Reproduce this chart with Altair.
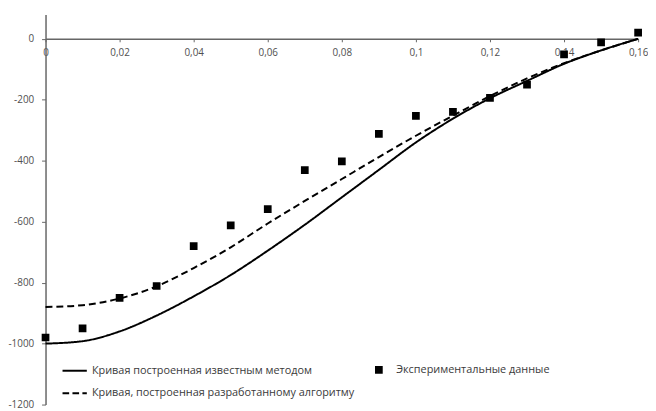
import altair as alt
import pandas as pd

# ---- data ----
x_curve = [0.0, 0.01, 0.02, 0.03, 0.04, 0.05, 0.06, 0.07, 0.08,
           0.09, 0.10, 0.11, 0.12, 0.13, 0.14, 0.15, 0.16]
known_method = [-1000, -992, -960, -908, -845, -775, -695, -610, -520,
                -430, -340, -262, -195, -138, -82, -38, 0]
new_algorithm = [-880, -874, -852, -812, -752, -684, -606, -532, -460,
                 -388, -318, -252, -188, -130, -80, -38, 0]
x_exp = [0.0, 0.01, 0.02, 0.03, 0.04, 0.05, 0.06, 0.07, 0.08,
         0.09, 0.10, 0.11, 0.12, 0.13, 0.14, 0.15, 0.16]
experimental = [-980, -950, -850, -811, -680, -612, -559, -431, -402,
                -312, -253, -240, -194, -150, -51, -12, 20]

x_ticks = [0, 0.02, 0.04, 0.06, 0.08, 0.1, 0.12, 0.14, 0.16]
y_ticks = [-1200, -1000, -800, -600, -400, -200, 0]

S1 = "Кривая построенная известным методом"
S2 = "Экспериментальные данные"
S3 = "Кривая, построенная разработанному алгоритму"
series_order = [S1, S2, S3]
curve_order = [S1, S3]

# ---- layout / style ----
W, H = 600, 395
Y_MIN, Y_MAX = -1200, 80
axis_offset = -H * (0 - Y_MIN) / (Y_MAX - Y_MIN)

# custom symbol paths (unit box -1..1 spans sqrt(size) pixels)
LINE_PATH = "M-1.1,0H1.1"
DASH_PATH = "M-1.1,0H-0.5M-0.2,0H0.4M0.7,0H1.1"
SQUARE_PATH = "M-0.26,-0.26H0.26V0.26H-0.26Z"
FONT = "Open Sans"
AXIS_GRAY = "#666666"

curves = pd.DataFrame({
    "x": x_curve + x_curve,
    "y": known_method + new_algorithm,
    "series": [S1] * len(x_curve) + [S3] * len(x_curve),
})
exp = pd.DataFrame({"x": x_exp, "y": experimental, "series": [S2] * len(x_exp)})

legend = alt.Legend(
    title=None, orient="none", legendX=17, legendY=347, columns=2,
    direction="horizontal",
    columnPadding=12, rowPadding=4, symbolSize=500, labelOffset=5,
    labelFont=FONT, labelFontSize=11, labelColor="#3a3a3a", labelLimit=0,
    symbolStrokeWidth=2,
)
dash_scale = alt.Scale(domain=curve_order, range=[[1, 0], [7, 4]])
shape_scale = alt.Scale(domain=series_order, range=[LINE_PATH, SQUARE_PATH, DASH_PATH])
stroke_scale = alt.Scale(domain=series_order, range=["black", "black", "black"])

x_enc = alt.X(
    "x:Q",
    scale=alt.Scale(domain=[0, 0.16], nice=False, zero=False),
    axis=alt.Axis(
        values=x_ticks, orient="bottom", offset=axis_offset, title=None,
        grid=False, labelExpr="replace(toString(datum.value), '.', ',')",
        domainColor=AXIS_GRAY, domainWidth=1.5, tickColor=AXIS_GRAY,
        tickSize=3, labelPadding=6, labelFont=FONT, labelFontSize=10,
        labelColor="#505050", labelFlush=False,
    ),
)
y_enc = alt.Y(
    "y:Q",
    scale=alt.Scale(domain=[Y_MIN, Y_MAX], nice=False, zero=False),
    axis=alt.Axis(
        values=y_ticks, title=None, grid=False,
        labelExpr="toString(datum.value)",
        domainColor=AXIS_GRAY, domainWidth=1.5, tickColor=AXIS_GRAY,
        tickSize=4, labelPadding=8, labelFont=FONT, labelFontSize=10,
        labelColor="#505050",
    ),
)

lines = alt.Chart(curves).mark_line(
    color="black", strokeWidth=2, interpolate="monotone"
).encode(
    x=x_enc, y=y_enc,
    strokeDash=alt.StrokeDash("series:N", scale=dash_scale, legend=None),
)

points = alt.Chart(exp).mark_point(
    filled=True, fill="black", strokeWidth=2, size=500, opacity=1
).encode(
    x=x_enc, y=y_enc,
    shape=alt.Shape("series:N", scale=shape_scale, legend=legend),
    stroke=alt.Stroke("series:N", scale=stroke_scale, legend=legend),
)

chart = alt.layer(lines, points).properties(
    width=W, height=H,
    autosize=alt.AutoSizeParams(type="none"),
    padding={"left": 38, "top": 4, "right": 10, "bottom": 4},
    background="white",
).configure_view(stroke=None)

chart.save("out.html", embed_options={"renderer": "svg", "actions": False})
